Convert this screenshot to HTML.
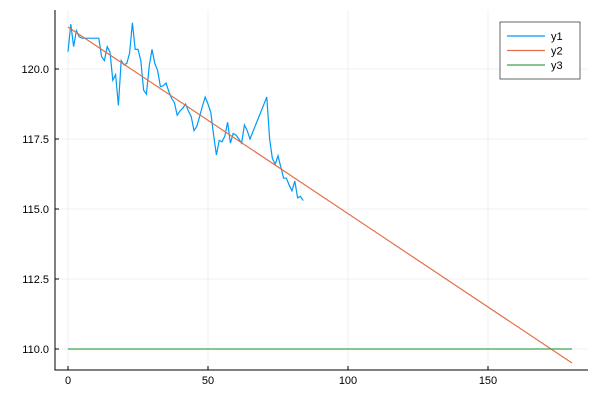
<!DOCTYPE html>
<html><head><meta charset="utf-8"><style>
body{margin:0;background:#fff;font-family:"Liberation Sans",sans-serif}
svg text{font-family:"Liberation Sans",sans-serif;font-size:11px;fill:#000}
</style></head><body>
<svg id="chart" width="600" height="400"></svg>
<script>
const y1Values=[120.62,121.6,120.8,121.37,121.15,121.1,121.1,121.1,121.1,121.1,121.1,121.1,120.44,120.3,120.8,120.6,119.6,119.8,118.7,120.3,120.15,120.2,120.57,121.65,120.7,120.7,120.3,119.25,119.1,120.1,120.7,120.2,119.95,119.37,119.4,119.5,119.2,118.95,118.8,118.35,118.5,118.6,118.75,118.5,118.3,117.8,117.95,118.3,118.67,119.0,118.75,118.45,117.64,116.93,117.45,117.4,117.6,118.1,117.35,117.7,117.64,117.5,117.35,118.0,117.8,117.5,117.75,118.0,118.25,118.5,118.75,119.0,117.5,116.8,116.6,116.9,116.5,116.1,116.1,115.85,115.65,116.0,115.4,115.45,115.3];
const y2Start=[0,121.5];
const y2End=[180,109.5];
const y3Value=[110];
const y3Range=[0,180];
const xTicks=[0,50,100,150];
const yTicks=[110,112.5,115,117.5,120];
const yTickLabels=["110.0","112.5","115.0","117.5","120.0"];
const seriesNames=["y1","y2","y3"];
const colors=["#009af9","#e26f46","#3ea44e"];

const NS="http://www.w3.org/2000/svg";
const svg=document.getElementById('chart');
const L=55,R=588,T=10,B=370;
const xs=v=>68+v*2.8;
const ys=v=>69+(120-v)*28;
function mk(tag,attrs,parent){const e=document.createElementNS(NS,tag);for(const k in attrs)e.setAttribute(k,attrs[k]);(parent||svg).appendChild(e);return e;}

const grid=mk('g',{});


xTicks.forEach(t=>{const l=mk('line',{x1:xs(t),x2:xs(t),y1:T,y2:B,stroke:'#000','stroke-opacity':0.1,'stroke-width':0.5},grid);

});
yTicks.forEach(t=>{const l=mk('line',{x1:L,x2:R,y1:ys(t),y2:ys(t),stroke:'#000','stroke-opacity':0.1,'stroke-width':0.5},grid);

});

const ax=mk('path',{d:`M${L},${T}V${B}H${R}`,fill:'none',stroke:'#000','stroke-width':1});


xTicks.forEach(t=>{mk('line',{x1:xs(t),x2:xs(t),y1:B,y2:B-4,stroke:'#000'});
const tx=mk('text',{x:xs(t),y:B+14,'text-anchor':'middle'});tx.textContent=t;

});
yTicks.forEach((t,i)=>{mk('line',{x1:L,x2:L+4,y1:ys(t),y2:ys(t),stroke:'#000'});
const tx=mk('text',{x:L-6,y:ys(t)+4,'text-anchor':'end'});tx.textContent=yTickLabels[i];

});

const p1=mk('polyline',{points:y1Values.map((v,i)=>xs(i)+','+ys(v)).join(' '),fill:'none',stroke:colors[0],'stroke-width':1.2});


const p2=mk('line',{x1:xs(y2Start[0]),y1:ys(y2Start[1]),x2:xs(y2End[0]),y2:ys(y2End[1]),stroke:colors[1],'stroke-width':1.2});


const p3=mk('line',{x1:xs(y3Range[0]),y1:ys(y3Value[0]),x2:xs(y3Range[1]),y2:ys(y3Value[0]),stroke:colors[2],'stroke-width':1.2});



const lg=mk('g',{});


mk('rect',{x:500,y:22,width:80,height:57,fill:'#fff',stroke:'#000','stroke-width':0.6},lg);
seriesNames.forEach((n,i)=>{const y=36+i*14.5;
const g=mk('g',{},lg);


mk('line',{x1:507,x2:545,y1:y,y2:y,stroke:colors[i],'stroke-width':1.2},g);
const t=mk('text',{x:551,y:y+4},g);t.textContent=n;});
</script>
</body></html>
